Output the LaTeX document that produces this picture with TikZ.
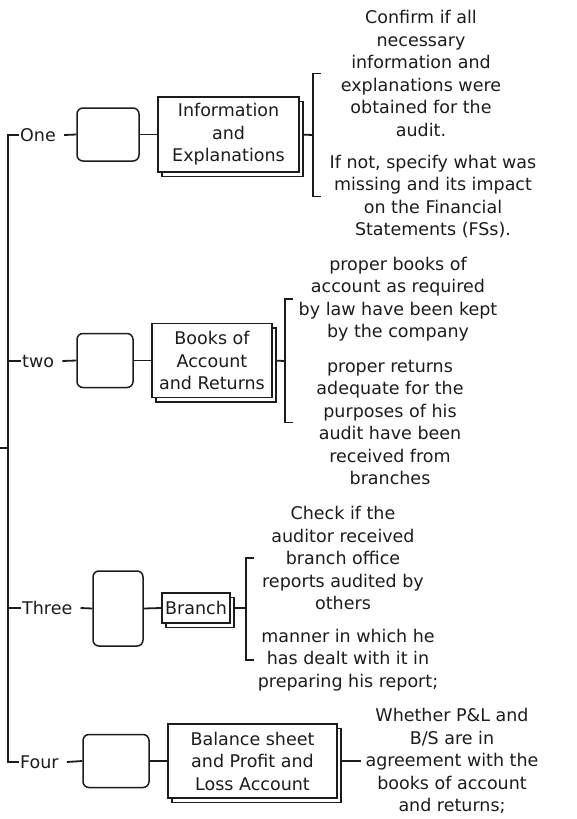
\documentclass[tikz,border=0pt]{standalone}
\usepackage{fontspec}
\setmainfont{DejaVu Sans}
\usetikzlibrary{shadows,backgrounds}
\definecolor{ink}{HTML}{1C1C1C}
\begin{document}
\begin{tikzpicture}[x=1pt,y=-1pt,
  every node/.style={text=ink, font=\fontsize{17.5}{22.5}\selectfont},
  txt/.style={align=center, inner sep=0pt},
  lab/.style={anchor=west, inner xsep=1pt, inner ysep=0pt},
  emptybox/.style={draw=ink, line width=1.5pt, rounded corners=6pt, fill=white, inner sep=0pt},
  topic/.style={draw=ink, line width=1.4pt, fill=white, align=center, inner sep=0pt,
    copy shadow={shadow xshift=4pt, shadow yshift=-4.5pt, draw=ink, fill=white, line width=1.1pt}},
  conn/.style={draw=ink, line width=1.8pt},
  brk/.style={draw=ink, line width=1.8pt}]
\useasboundingbox (0,0) rectangle (576,819);

% trunk position
\coordinate (trunk) at (8,448);

% row labels
\node[lab] (l1) at (19,135) {One};
\node[lab] (l2) at (21,361) {two};
\node[lab] (l3) at (21,608) {Three};
\node[lab] (l4) at (19,762) {Four};

% empty rounded boxes
\node[emptybox, minimum width=62pt, minimum height=53pt] (e1) at (108,134.5) {};
\node[emptybox, minimum width=56pt, minimum height=54pt] (e2) at (105,360.5) {};
\node[emptybox, minimum width=50pt, minimum height=75pt] (e3) at (118,608.5) {};
\node[emptybox, minimum width=66pt, minimum height=53pt] (e4) at (116,761) {};

% topic boxes
\node[topic, minimum width=141pt, minimum height=75pt] (r1) at (228.5,134.5) {Information\\and\\Explanations};
\node[topic, minimum width=120pt, minimum height=74pt] (r2) at (212,360.5) {Books of\\Account\\and Returns};
\node[topic, minimum width=68pt, minimum height=30pt] (r3) at (196,608) {Branch};
\node[topic, minimum width=169pt, minimum height=74pt] (r4) at (252.5,761) {Balance sheet\\and Profit and\\Loss Account};

% detail texts
\node[txt] (t1a) at (421,73.5) {Confirm if all\\necessary\\information and\\explanations were\\obtained for the\\audit.};
\node[txt] (t1b) at (433,196.5) {If not, specify what was\\missing and its impact\\on the Financial\\Statements (FSs).};
\node[txt] (t2a) at (398,299) {proper books of\\account as required\\by law have been kept\\by the company};
\node[txt] (t2b) at (390,422.5) {proper returns\\adequate for the\\purposes of his\\audit have been\\received from\\branches};
\node[txt] (t3a) at (343,558) {Check if the\\auditor received\\branch office\\reports audited by\\others};
\node[txt] (t3b) at (348,660) {manner in which he\\has dealt with it in\\preparing his report;};
\node[txt] (t4) at (452,761) {Whether P\&L and\\B/S are in\\agreement with the\\books of account\\and returns;};

% bracket spines
\coordinate (k1) at (313,135);
\coordinate (k2) at (285,361);
\coordinate (k3) at (246,608);

\begin{scope}[on background layer]
  % trunk and its ticks
  \draw[conn] (l1.west) -- (l1.west -| trunk) -- (l4.west -| trunk) -- (l4.west);
  \draw[conn] (l2.west -| trunk) -- (l2.west);
  \draw[conn] (l3.west -| trunk) -- (l3.west);
  \draw[conn] (trunk) -- ++(-8,0);
  % label to box
  \draw[conn] ([xshift=7pt]l1.east) -- (e1.west);
  \draw[conn] ([xshift=7pt]l2.east) -- (e2.west);
  \draw[conn] ([xshift=7pt]l3.east) -- (e3.west);
  \draw[conn] ([xshift=7pt]l4.east) -- (e4.west);
  % box to topic
  \draw[conn] (e1.east) -- (r1.west);
  \draw[conn] (e2.east) -- (r2.west);
  \draw[conn] (e3.east) -- (r3.west);
  \draw[conn] (e4.east) -- (r4.west);
  % topic to bracket
  \draw[conn] (r1.east) -- (k1);
  \draw[conn] (r2.east) -- (k2);
  \draw[conn] (r3.east) -- (k3);
  \draw[conn] (r4.east) -- ([xshift=-4pt]t4.west);
\end{scope}

% brackets
\draw[brk] ([xshift=8pt]k1 |- t1a) -- (k1 |- t1a) -- (k1 |- t1b) -- ++(8,0);
\draw[brk] ([xshift=8pt]k2 |- t2a) -- (k2 |- t2a) -- (k2 |- t2b) -- ++(8,0);
\draw[brk] ([xshift=8pt]k3 |- t3a) -- (k3 |- t3a) -- (k3 |- t3b) -- ++(8,0);
\end{tikzpicture}
\end{document}
